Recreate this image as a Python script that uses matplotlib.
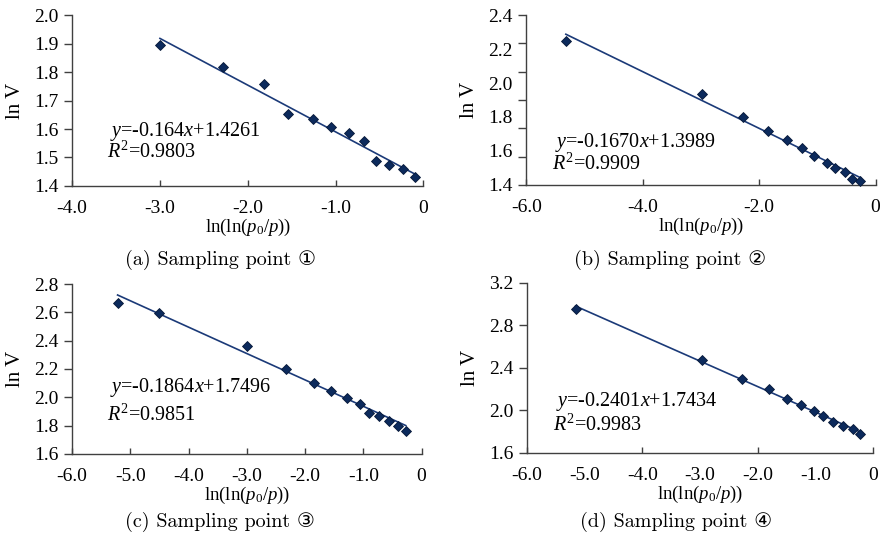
import numpy as np
import matplotlib
matplotlib.use("Agg")
import matplotlib.pyplot as plt
from matplotlib.ticker import FuncFormatter

plt.rcParams['font.family'] = ['Liberation Serif', 'DejaVu Serif']
plt.rcParams['mathtext.fontset'] = 'custom'
plt.rcParams['mathtext.rm'] = 'Liberation Serif'
plt.rcParams['mathtext.it'] = 'Liberation Serif:italic'
plt.rcParams['axes.unicode_minus'] = False

# data (x = ln(ln(p0/p)), y = ln V)
x_a = [-3.00, -2.28, -1.82, -1.54, -1.26, -1.05, -0.85, -0.68, -0.54, -0.39, -0.23, -0.10]
y_a = [1.895, 1.818, 1.757, 1.651, 1.634, 1.607, 1.586, 1.558, 1.488, 1.473, 1.461, 1.432]
x_b = [-5.32, -2.98, -2.28, -1.85, -1.53, -1.27, -1.06, -0.84, -0.69, -0.53, -0.40, -0.26]
y_b = [2.249, 1.933, 1.802, 1.720, 1.665, 1.620, 1.573, 1.527, 1.502, 1.473, 1.437, 1.422]
x_c = [-5.22, -4.51, -3.00, -2.33, -1.85, -1.55, -1.28, -1.06, -0.91, -0.73, -0.56, -0.41, -0.27]
y_c = [2.664, 2.593, 2.365, 2.198, 2.099, 2.047, 1.993, 1.951, 1.892, 1.864, 1.833, 1.800, 1.758]
x_d = [-5.16, -2.97, -2.27, -1.81, -1.50, -1.25, -1.03, -0.86, -0.70, -0.52, -0.35, -0.23]
y_d = [2.958, 2.472, 2.293, 2.199, 2.111, 2.049, 1.995, 1.948, 1.892, 1.851, 1.820, 1.776]

slopes = [-0.164, -0.1670, -0.1864, -0.2401]
intercepts = [1.4261, 1.3989, 1.7496, 1.7434]
eq_texts = [r'$\mathit{y}$=-0.164$\mathit{x}$+1.4261',
            r'$\mathit{y}$=-0.1670$\mathit{x}$+1.3989',
            r'$\mathit{y}$=-0.1864$\mathit{x}$+1.7496',
            r'$\mathit{y}$=-0.2401$\mathit{x}$+1.7434']
r2_texts = [r'$\mathit{R}^2$=0.9803', r'$\mathit{R}^2$=0.9909',
            r'$\mathit{R}^2$=0.9851', r'$\mathit{R}^2$=0.9983']
captions = ['(a) Sampling point \u2460', '(b) Sampling point \u2461',
            '(c) Sampling point \u2462', '(d) Sampling point \u2463']

xs = [x_a, x_b, x_c, x_d]
ys = [y_a, y_b, y_c, y_d]
xlims = [(-4, 0), (-6, 0), (-6, 0), (-6, 0)]
ylims = [(1.4, 2.0), (1.4, 2.4), (1.6, 2.8), (1.6, 3.2)]
xlabel_pos = [np.arange(-4, 1, 1), np.arange(-6, 1, 2), np.arange(-6, 1, 1), np.arange(-6, 1, 1)]
xmark_pos = [np.arange(-4, 1, 1), np.arange(-6, 1, 2), np.arange(-6, 1, 1), np.arange(-6, 1, 2)]
ylabel_pos = [np.arange(1.4, 2.01, 0.1), np.arange(1.4, 2.41, 0.2),
              np.arange(1.6, 2.81, 0.2), np.arange(1.6, 3.21, 0.4)]
ymark_pos = [np.arange(1.4, 2.01, 0.1), np.linspace(1.4, 2.4, 7),
             np.arange(1.6, 2.81, 0.2), np.arange(1.6, 3.21, 0.4)]

# axes rectangles in figure fractions
rects = [[0.082, 0.655, 0.399, 0.317],
         [0.598, 0.657, 0.397, 0.315],
         [0.082, 0.158, 0.397, 0.315],
         [0.599, 0.160, 0.393, 0.315]]
eq_pos = [(0.10, 0.32, 0.20), (0.075, 0.25, 0.12), (0.10, 0.39, 0.23), (0.075, 0.30, 0.16)]
cap_pos = [(0.25, 0.518), (0.762, 0.518), (0.25, 0.032), (0.768, 0.032)]

mk_color = '#0c2a5c'
line_color = '#1b3a78'
spine_color = '#404040'

fig = plt.figure(figsize=(8.8, 5.39), dpi=100)

fmt = FuncFormatter(lambda v, p: '0' if abs(v) < 1e-9 else '%.1f' % v)
blank = FuncFormatter(lambda v, p: '')

for i in range(4):
    ax = fig.add_axes(rects[i])
    x = np.array(xs[i])
    y = np.array(ys[i])
    xl = np.array([x.min(), x.max()])
    ax.plot(xl, slopes[i] * xl + intercepts[i], color=line_color, lw=1.2, zorder=2)
    ax.plot(x, y, linestyle='none', marker='D', ms=5.6, color=mk_color,
            mec='#061838', mew=0.6, zorder=3, clip_on=False)

    ax.set_xlim(*xlims[i])
    ax.set_ylim(*ylims[i])
    for s in ['top', 'right']:
        ax.spines[s].set_visible(False)
    for s in ['left', 'bottom']:
        ax.spines[s].set_color(spine_color)
        ax.spines[s].set_linewidth(1.0)
    ax.xaxis.remove_overlapping_locs = False
    ax.yaxis.remove_overlapping_locs = False

    # x: labels on major ticks (no marks), marks on minor ticks
    ax.set_xticks(xlabel_pos[i])
    ax.xaxis.set_major_formatter(fmt)
    ax.set_xticks(xmark_pos[i], minor=True)
    ax.xaxis.set_minor_formatter(blank)
    ax.tick_params(axis='x', which='major', length=0, pad=10, labelsize=14)
    ax.tick_params(axis='x', which='minor', direction='in', length=4.5,
                   width=1.0, color=spine_color)
    # y: marks on major ticks, labels on minor ticks
    ax.set_yticks(ymark_pos[i])
    ax.yaxis.set_major_formatter(blank)
    ax.set_yticks(ylabel_pos[i], minor=True)
    ax.yaxis.set_minor_formatter(FuncFormatter(lambda v, p: '%.1f' % v))
    ax.tick_params(axis='y', which='major', direction='out', length=6,
                   width=1.0, color=spine_color)
    ax.tick_params(axis='y', which='minor', length=0, pad=10, labelsize=14)

    ax.set_xlabel(r'ln(ln($\mathit{p}_0$/$\mathit{p}$))', fontsize=13.5, labelpad=0)
    ax.set_ylabel('ln V', fontsize=15)
    ax.yaxis.set_label_coords(-0.135, 0.5)

    ex, ey, ry = eq_pos[i]
    ax.text(ex + 0.008, ey, eq_texts[i], transform=ax.transAxes, fontsize=14.5,
            ha='left', va='center')
    ax.text(ex, ry, r2_texts[i], transform=ax.transAxes, fontsize=14.5,
            ha='left', va='center')

    fig.text(cap_pos[i][0], cap_pos[i][1], captions[i], fontsize=14.5,
             ha='center', va='center',
             family=['cmr10', 'DejaVu Sans', 'Noto Sans CJK SC'])

fig.savefig('out.png', dpi=100)
